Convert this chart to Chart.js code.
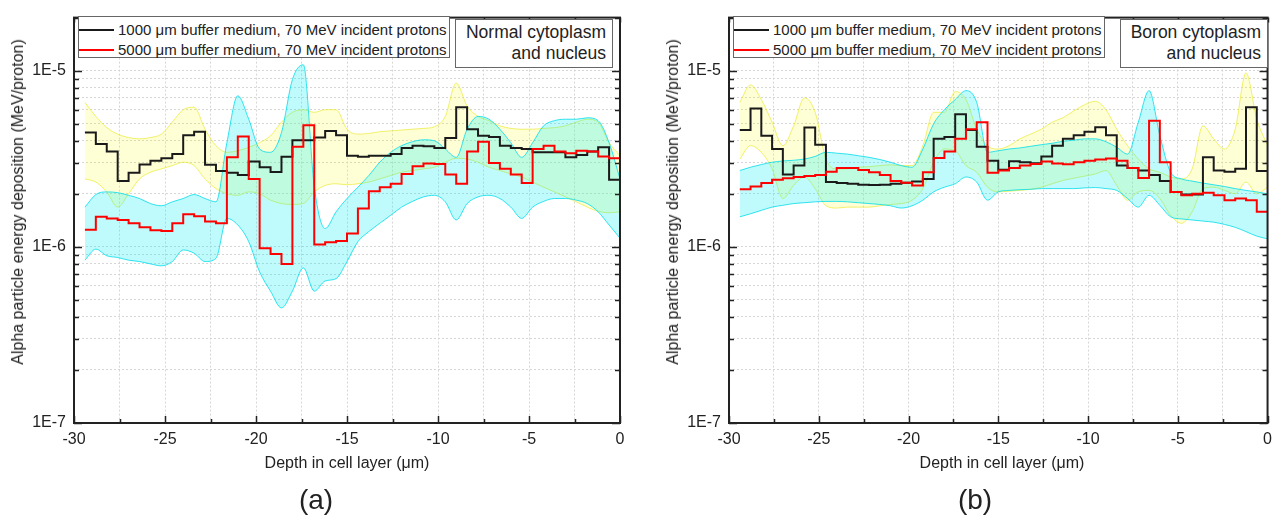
<!DOCTYPE html>
<html>
<head>
<meta charset="utf-8">
<script src="https://cdn.jsdelivr.net/npm/chart.js@4.4.1/dist/chart.umd.min.js"></script>
<style>
  body { margin: 0; background: #fff; font-family: "Liberation Sans", Arial, sans-serif; color: #222; }
  #page { position: relative; width: 1279px; height: 517px; overflow: hidden; }
  canvas { position: absolute; top: 0; }
  .legend { position: absolute; top: 16px; width: 372px; height: 42px; border: 1px solid #666; background: #fff; box-sizing: border-box; font-size: 15px; z-index: 2; }
  .legend .txt { position: absolute; left: 39px; white-space: nowrap; line-height: 17px; }
  .legend .line { position: absolute; left: 0; width: 35px; height: 2px; }
  .note { position: absolute; top: 19px; border: 1px solid #666; background: #fff; font-size: 17.5px; text-align: right; line-height: 21px; padding: 2px 6px 3px 10px; white-space: nowrap; z-index: 2; }
  .xtitle { position: absolute; top: 454px; font-size: 16px; transform: translateX(-50%); white-space: nowrap; }
  .ytitle { position: absolute; top: 202px; font-size: 16px; white-space: nowrap; transform: translate(-50%, -50%) rotate(-90deg); }
  .panel { position: absolute; top: 484px; font-size: 28px; transform: translateX(-50%); }
</style>
</head>
<body>
<div id="page">
  <canvas id="chartA" width="640" height="517" style="left:0"></canvas>
  <canvas id="chartB" width="624" height="517" style="left:655px"></canvas>

  <div class="legend" style="left:78px">
    <span class="line" style="top:12px;background:#1a1a1a"></span><span class="txt" style="top:4px">1000 μm buffer medium, 70 MeV incident protons</span>
    <span class="line" style="top:32px;background:#ff0000"></span><span class="txt" style="top:24px">5000 μm buffer medium, 70 MeV incident protons</span>
  </div>
  <div class="note" style="right:666px">Normal cytoplasm<br>and nucleus</div>

  <div class="legend" style="left:733px">
    <span class="line" style="top:12px;background:#1a1a1a"></span><span class="txt" style="top:4px">1000 μm buffer medium, 70 MeV incident protons</span>
    <span class="line" style="top:32px;background:#ff0000"></span><span class="txt" style="top:24px">5000 μm buffer medium, 70 MeV incident protons</span>
  </div>
  <div class="note" style="right:11px">Boron cytoplasm<br>and nucleus</div>

  <div class="ytitle" style="left:18px">Alpha particle energy deposition (MeV/proton)</div>
  <div class="ytitle" style="left:673px">Alpha particle energy deposition (MeV/proton)</div>
  <div class="xtitle" style="left:347px">Depth in cell layer (μm)</div>
  <div class="xtitle" style="left:1002px">Depth in cell layer (μm)</div>
  <div class="panel" style="left:316px">(a)</div>
  <div class="panel" style="left:975px">(b)</div>
</div>

<script>
// depth of each bin start (µm)
const depth = [-29.4,-28.8,-28.2,-27.6,-27.0,-26.4,-25.8,-25.2,-24.6,-24.0,-23.4,-22.8,-22.2,-21.6,-21.0,-20.4,-19.8,-19.2,-18.6,-18.0,
  -17.4,-16.8,-16.2,-15.6,-15.0,-14.4,-13.8,-13.2,-12.6,-12.0,-11.4,-10.8,-10.2,-9.6,-9.0,-8.4,-7.8,-7.2,-6.6,-6.0,
  -5.4,-4.8,-4.2,-3.6,-3.0,-2.4,-1.8,-1.2,-0.6,0];

// all values below in units of 1E-6 MeV/proton
// (a) normal cytoplasm and nucleus
const normal1000 = [4.45,3.83,3.48,2.36,2.63,2.93,3.08,3.18,3.36,4.3,4.5,2.92,2.69,2.63,2.56,3.05,2.83,2.66,3.24,4.03,
  4.03,4.17,4.55,4.3,3.29,3.25,3.29,3.29,3.36,3.64,3.75,3.72,3.64,4.14,6.2,4.65,4.27,4.2,3.75,3.64,
  3.59,3.44,3.44,3.44,3.22,3.32,3.48,3.67,2.4,2.4];
const normal5000 = [1.25,1.48,1.45,1.42,1.36,1.29,1.24,1.23,1.36,1.53,1.49,1.39,1.36,3.22,4.23,2.43,0.98,0.91,0.80,3.7,
  4.9,1.03,1.06,1.08,1.19,1.65,2.07,2.18,2.28,2.59,2.87,2.97,2.95,2.57,2.28,3.47,3.95,2.99,2.77,2.57,
  2.3,3.59,3.75,3.47,3.4,3.51,3.48,3.26,3.18,1.65];
const normal1000Hi = [6.6,5.5,4.75,4.36,4.17,4.1,4.17,4.36,5.1,6.0,6.2,4.65,3.75,3.44,3.51,3.67,3.9,4.27,5.1,5.8,
  6.0,5.8,6.0,6.0,4.65,4.36,4.4,4.5,4.55,4.6,4.65,4.7,4.8,5.5,8.5,6.3,5.5,5.2,4.86,4.7,
  4.65,4.65,4.7,4.75,4.86,5.1,5.3,5.1,3.9,3.29];
const normal1000Lo = [2.43,2.33,2.05,1.68,2.0,2.43,2.65,2.77,2.89,3.02,2.89,2.43,2.14,2.0,1.96,2.05,2.0,1.84,1.76,1.74,
  1.76,2.05,2.23,2.28,2.25,2.28,2.33,2.43,2.54,2.65,2.71,2.77,2.83,3.02,3.18,3.15,3.02,2.83,2.71,2.59,
  2.49,2.33,2.18,2.05,1.92,1.8,1.68,1.59,1.56,1.58];
const normal5000Hi = [1.68,1.98,2.05,2.03,1.96,1.88,1.76,1.71,1.8,1.88,1.98,1.88,1.8,3.9,7.2,5.3,3.59,3.44,4.45,8.9,
  10.8,2.2,1.27,1.58,1.88,2.18,2.54,3.02,3.44,3.75,3.95,4.05,4.0,3.59,3.22,4.65,5.5,5.3,4.65,3.9,
  3.22,3.9,4.86,5.2,5.3,5.3,5.4,5.2,3.9,2.43];
const normal5000Lo = [0.84,0.97,0.89,0.87,0.84,0.825,0.80,0.78,0.825,0.96,0.92,0.825,0.86,1.45,1.33,1.07,0.72,0.56,0.45,0.56,
  0.76,0.56,0.64,0.66,0.825,1.07,1.22,1.36,1.51,1.68,1.81,1.92,1.96,1.8,1.42,1.76,1.92,1.96,1.88,1.68,
  1.45,1.68,1.81,1.88,1.88,1.84,1.76,1.58,1.33,1.12];

// (b) boron cytoplasm and nucleus
const boron1000 = [4.6,6.1,4.27,3.59,2.57,2.89,4.75,3.8,2.33,2.3,2.28,2.25,2.24,2.25,2.28,2.31,2.35,2.43,4.1,4.2,
  5.65,4.6,3.7,3.08,2.74,3.06,3.02,2.98,3.26,3.75,4.1,4.3,4.5,4.77,4.3,2.89,2.8,2.71,2.56,2.36,
  2.05,1.98,1.98,3.22,2.71,2.67,2.77,6.2,2.69,2.69];
const boron5000 = [2.12,2.2,2.3,2.4,2.45,2.49,2.52,2.56,2.67,2.8,2.8,2.73,2.65,2.56,2.36,2.31,2.23,2.65,3.19,3.47,
  4.1,4.65,5.1,2.63,2.71,2.8,2.89,2.95,3.05,2.97,2.94,3.02,3.08,3.13,3.17,3.08,2.8,2.46,5.2,3.02,
  2.05,1.96,2.0,2.03,1.96,1.84,1.88,1.84,1.58,1.58];
const boron1000Hi = [6.6,8.3,6.85,5.1,3.75,4.86,7.0,5.8,3.15,2.77,2.77,2.83,2.85,2.89,2.92,2.89,2.89,3.75,5.8,5.8,
  7.6,6.85,4.65,3.75,3.59,3.75,4.1,4.36,4.65,5.1,5.4,5.9,6.4,6.7,6.0,4.65,3.75,3.15,2.77,2.65,
  2.49,2.43,2.77,4.86,4.1,3.59,4.65,9.7,5.3,3.75];
const boron1000Lo = [3.15,3.75,3.44,2.77,1.88,2.23,2.49,2.14,1.71,1.66,1.68,1.68,1.68,1.71,1.74,1.76,1.84,2.14,3.02,3.59,
  3.51,2.89,2.65,2.18,2.05,2.07,2.09,2.12,2.18,2.28,2.38,2.45,2.52,2.59,2.71,2.23,1.84,2.05,2.09,1.88,
  1.51,1.36,1.58,2.14,2.18,2.09,2.0,2.33,2.0,2.18];
const boron5000Hi = [2.71,2.83,2.93,3.02,3.07,3.1,3.15,3.26,3.44,3.4,3.36,3.29,3.22,3.13,3.02,2.89,2.83,3.59,5.0,6.0,
  6.85,7.7,6.6,3.44,3.51,3.59,3.64,3.72,3.8,3.87,3.97,4.03,4.1,4.1,3.95,3.67,3.36,5.1,7.7,4.27,
  2.65,2.43,2.36,2.3,2.25,2.2,2.14,2.09,2.05,2.0];
const boron5000Lo = [1.48,1.54,1.61,1.68,1.72,1.76,1.78,1.8,1.81,1.81,1.8,1.78,1.76,1.74,1.71,1.66,1.71,1.84,2.05,2.18,
  2.28,2.49,2.33,1.84,2.05,2.09,2.11,2.12,2.14,2.14,2.14,2.14,2.16,2.17,2.14,2.09,1.88,1.68,1.96,1.72,
  1.48,1.44,1.42,1.4,1.38,1.34,1.29,1.22,1.15,1.11];

// axes
const xTicks = [-30,-27.5,-25,-22.5,-20,-17.5,-15,-12.5,-10,-7.5,-5,-2.5,0];
const xTickLabels = ['-30','','-25','','-20','','-15','','-10','','-5','','0'];
const yMajor = [1e-7, 1e-6, 1e-5];
const yTickLabels = ['1E-7', '1E-6', '1E-5'];
const yMinorSteps = [2, 3, 4, 5, 6, 7, 8, 9];
const yMin = 1e-7, yMax = 2e-5;

const yTicks = yMajor.flatMap(d => [d, ...yMinorSteps.map(m => m * d)]).filter(v => v <= yMax * 1.0001);

function pts(arr) {
  return arr.map((v, i) => ({ x: depth[i], y: v * 1e-6 }));
}

// frame with inward ticks on all four sides
const frameTicks = {
  id: 'frameTicks',
  afterDraw(chart) {
    const { ctx, chartArea: a, scales: { x, y } } = chart;
    ctx.save();
    ctx.strokeStyle = '#222';
    ctx.lineWidth = 1.5;
    ctx.beginPath();
    xTicks.forEach((v, i) => {
      const px = Math.round(x.getPixelForValue(v)) + 0.5;
      const major = xTickLabels[i] !== '';
      ctx.moveTo(px, a.bottom); ctx.lineTo(px, a.bottom - (major ? 7 : 4));
      ctx.moveTo(px, a.top); ctx.lineTo(px, a.top + (major ? 5 : 3));
    });
    yTicks.forEach(v => {
      const py = Math.round(y.getPixelForValue(v)) + 0.5;
      const major = yMajor.some(d => Math.abs(v / d - 1) < 1e-6);
      const len = major ? 8 : 5;
      ctx.moveTo(a.left, py); ctx.lineTo(a.left + len, py);
      ctx.moveTo(a.right, py); ctx.lineTo(a.right - len, py);
    });
    ctx.stroke();
    ctx.lineWidth = 2;
    ctx.strokeRect(a.left, a.top, a.right - a.left, a.bottom - a.top);
    ctx.restore();
  }
};

function makeChart(id, s1000, s5000, hi1000, lo1000, hi5000, lo5000, padRight) {
  const band = (data, fill, order) => ({
    data: pts(data), borderColor: 'rgba(235,235,60,0.75)', borderWidth: 1, pointRadius: 0,
    cubicInterpolationMode: 'monotone', fill: fill, backgroundColor: 'rgba(255,255,0,0.16)', order: order
  });
  const cband = (data, fill, order) => ({
    data: pts(data), borderColor: 'rgba(0,220,235,0.8)', borderWidth: 1, pointRadius: 0,
    cubicInterpolationMode: 'monotone', fill: fill, backgroundColor: 'rgba(0,240,245,0.25)', order: order
  });
  return new Chart(document.getElementById(id), {
    type: 'line',
    data: {
      datasets: [
        { label: '1000 μm', data: pts(s1000), borderColor: '#1a1a1a', borderWidth: 2, pointRadius: 0, stepped: true, fill: false, order: 1 },
        { label: '5000 μm', data: pts(s5000), borderColor: '#ff0000', borderWidth: 2, pointRadius: 0, stepped: true, fill: false, order: 0 },
        band(hi1000, false, 3),
        band(lo1000, '-1', 3),
        cband(hi5000, false, 2),
        cband(lo5000, '-1', 2)
      ]
    },
    options: {
      responsive: false,
      animation: false,
      events: [],
      layout: { padding: { left: 0, top: 14, right: padRight, bottom: 0 } },
      plugins: { legend: { display: false }, tooltip: { enabled: false } },
      scales: {
        x: {
          type: 'linear', min: -30, max: 0,
          afterBuildTicks: s => { s.ticks = xTicks.map(v => ({ value: v })); },
          afterFit: s => { s.height = 94; },
          ticks: {
            autoSkip: false, maxRotation: 0, padding: 7, color: '#222',
            font: { family: '"Liberation Sans", Arial, sans-serif', size: 16 },
            callback: (v, i) => xTickLabels[i]
          },
          grid: { color: '#d6d6d6', lineWidth: 1, drawTicks: false },
          border: { display: false, dash: [2, 2] }
        },
        y: {
          type: 'logarithmic', min: yMin, max: yMax,
          afterBuildTicks: s => { s.ticks = yTicks.map(v => ({ value: v })); },
          afterFit: s => { s.width = 74; },
          ticks: {
            autoSkip: false, padding: 8, color: '#222',
            font: { family: '"Liberation Sans", Arial, sans-serif', size: 16 },
            callback: v => {
              const k = yMajor.findIndex(d => Math.abs(v / d - 1) < 1e-6);
              return k >= 0 ? yTickLabels[k] : '';
            }
          },
          grid: { color: '#d6d6d6', lineWidth: 1, drawTicks: false },
          border: { display: false, dash: [2, 2] }
        }
      }
    },
    plugins: [frameTicks]
  });
}

makeChart('chartA', normal1000, normal5000, normal1000Hi, normal1000Lo, normal5000Hi, normal5000Lo, 20);
makeChart('chartB', boron1000, boron5000, boron1000Hi, boron1000Lo, boron5000Hi, boron5000Lo, 4);
</script>
</body>
</html>
